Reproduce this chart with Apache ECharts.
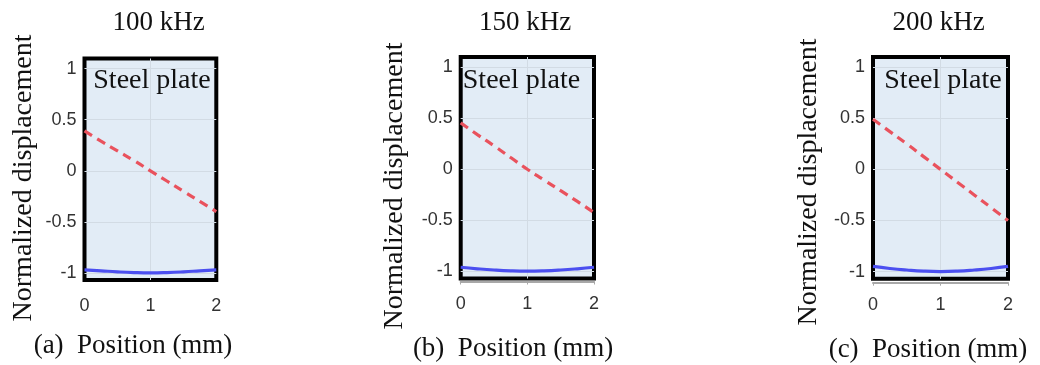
<!DOCTYPE html>
<html>
<head>
<meta charset="utf-8">
<script src="https://cdn.jsdelivr.net/npm/echarts@6/dist/echarts.min.js"></script>
<style>
  html, body { margin: 0; padding: 0; background: #fff; }
  #chart { width: 1040px; height: 365px; }
</style>
</head>
<body>
<div id="chart"></div>
<script>
// Through-thickness displacement profiles of a 2 mm steel plate at three frequencies
const positions = [0, 0.25, 0.5, 0.75, 1, 1.25, 1.5, 1.75, 2];   // mm
const frequencies = ['100 kHz', '150 kHz', '200 kHz'];
const panelTags = ['(a)', '(b)', '(c)'];
const xTicks = [0, 1, 2];
const yTicks = [-1, -0.5, 0, 0.5, 1];

// in-plane (dashed red) component
const inPlane100 = [0.39, 0.29, 0.195, 0.1, 0, -0.1, -0.2, -0.3, -0.40];
const inPlane150 = [0.455, 0.34, 0.23, 0.115, 0, -0.105, -0.21, -0.315, -0.425];
const inPlane200 = [0.49, 0.37, 0.25, 0.125, 0, -0.125, -0.25, -0.375, -0.50];

// out-of-plane (solid blue) component
const outPlane100 = [-0.97, -0.98, -0.99, -0.997, -1.0, -0.997, -0.99, -0.98, -0.97];
const outPlane150 = [-0.96, -0.975, -0.987, -0.995, -0.998, -0.995, -0.987, -0.975, -0.96];
const outPlane200 = [-0.95, -0.97, -0.985, -0.996, -1.0, -0.996, -0.985, -0.97, -0.95];

const inPlane = [inPlane100, inPlane150, inPlane200];
const outPlane = [outPlane100, outPlane150, outPlane200];

const SERIF = '"Times New Roman", "Liberation Serif", serif';
const SANS = 'Arial, "Liberation Sans", sans-serif';

// plot boxes: left, top, width, height
const boxes = [
  [84.5, 58.5, 131.8, 221.5],
  [460.7, 57, 133.3, 221.5],
  [873, 57, 135, 221.7]
];
const titlePos = [[158.5, 23], [525, 23], [938.5, 23]];
const yNamePos = [[24, 178], [395, 186], [809, 182]];
const xNamePos = [[133, 346], [513, 349], [928, 350]];
const platePos = [[152, 81], [521.5, 81], [943, 81]];
const axisLineOffset = [0, 3, 4];

const pairs = (xs, ys) => xs.map((x, i) => [x, ys[i]]);

const grids = [], xAxes = [], yAxes = [], series = [], graphics = [];

boxes.forEach((b, i) => {
  const showBase = axisLineOffset[i] > 0;
  grids.push({
    left: b[0], top: b[1], width: b[2], height: b[3],
    show: true,
    backgroundColor: '#e2ecf6',
    borderColor: '#000',
    borderWidth: 4
  });
  xAxes.push({
    type: 'value', gridIndex: i, min: 0, max: 2, interval: 1,
    offset: axisLineOffset[i],
    axisLine: { show: showBase, onZero: false, lineStyle: { color: '#a8a8a8', width: 2 } },
    axisTick: { show: showBase, length: 3, inside: false, lineStyle: { color: '#a8a8a8' } },
    axisLabel: { color: '#333', fontFamily: SANS, fontSize: 18, margin: 17 - axisLineOffset[i] },
    splitLine: { show: true, showMinLine: false, showMaxLine: false, lineStyle: { color: '#d2dbe4', width: 1 } }
  });
  yAxes.push({
    type: 'value', gridIndex: i, min: -1.07, max: 1.1,
    axisLine: { show: false },
    axisTick: { show: false, customValues: yTicks },
    axisLabel: {
      color: '#333', fontFamily: SANS, fontSize: 18, margin: 8,
      customValues: yTicks,
      formatter: v => String(v)
    },
    splitLine: { show: true, lineStyle: { color: '#d2dbe4', width: 1 } }
  });
  series.push({
    type: 'line', xAxisIndex: i, yAxisIndex: i,
    data: pairs(positions, outPlane[i]),
    smooth: true, symbol: 'none', z: 3,
    lineStyle: { color: '#4b4ff0', width: 3.2 }
  });
  series.push({
    type: 'line', xAxisIndex: i, yAxisIndex: i,
    data: pairs(positions, inPlane[i]),
    smooth: true, symbol: 'none', z: 3,
    lineStyle: { color: '#e9525d', width: 3.2, type: [9, 6] }
  });

  graphics.push({
    type: 'text', x: titlePos[i][0], y: titlePos[i][1],
    style: { text: frequencies[i], font: '27px ' + SERIF, fill: '#111', align: 'center', verticalAlign: 'middle' }
  });
  graphics.push({
    type: 'text', x: yNamePos[i][0], y: yNamePos[i][1], rotation: Math.PI / 2,
    style: { text: 'Normalized displacement', font: '28px ' + SERIF, fill: '#111', align: 'center', verticalAlign: 'middle' }
  });
  graphics.push({
    type: 'text', x: xNamePos[i][0], y: xNamePos[i][1],
    style: { text: panelTags[i] + '  Position (mm)', font: '27px ' + SERIF, fill: '#111', align: 'center', verticalAlign: 'middle' }
  });
  graphics.push({
    type: 'text', x: platePos[i][0], y: platePos[i][1], z: 10,
    style: { text: 'Steel plate', font: '28px ' + SERIF, fill: '#111', align: 'center', verticalAlign: 'middle' }
  });
});

const chart = echarts.init(document.getElementById('chart'), null, { renderer: 'canvas' });
chart.setOption({
  backgroundColor: '#fff',
  animation: false,
  grid: grids,
  xAxis: xAxes,
  yAxis: yAxes,
  series: series,
  graphic: graphics
});
</script>
</body>
</html>
